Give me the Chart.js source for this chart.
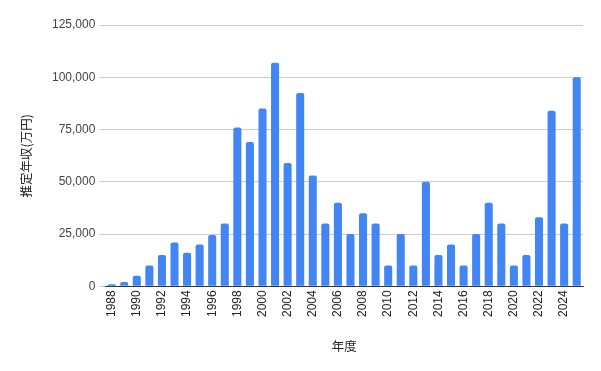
<!DOCTYPE html>
<html>
<head>
<meta charset="utf-8">
<script src="https://cdn.jsdelivr.net/npm/chart.js@4"></script>
<style>
  html, body { margin: 0; padding: 0; background: #fff; }
  #wrap { width: 601px; height: 371px; }
</style>
</head>
<body>
<div id="wrap"><canvas id="incomeChart" width="601" height="371"></canvas></div>
<script>
// 年度
const years = [];
for (let y = 1988; y <= 2025; y++) years.push(String(y));

// 推定年収(万円)
const income = [
  1000, 2000, 5000, 10000, 15000, 21000, 16000, 20000, 24500, 30000,
  76000, 69000, 85000, 107000, 59000, 92500, 53000, 30000, 40000, 25000,
  35000, 30000, 10000, 25000, 10000, 50000, 15000, 20000, 10000, 25000,
  40000, 30000, 10000, 15000, 33000, 84000, 30000, 100000
];

const yTicks = [0, 25000, 50000, 75000, 100000, 125000];

const tickFont = { family: "'Liberation Sans', Arial, sans-serif", size: 12 };
const titleFont = { family: "'Noto Sans CJK JP', sans-serif", size: 12.5 };

const ctx = document.getElementById("incomeChart").getContext("2d");
new Chart(ctx, {
  type: 'bar',
  data: {
    labels: years,
    datasets: [{
      label: "推定年収(万円)",
      data: income,
      backgroundColor: "#4285F4",
      borderRadius: { topLeft: 2, topRight: 2 },
      borderSkipped: 'bottom',
      categoryPercentage: 1.0,
      barPercentage: 0.64
    }]
  },
  options: {
    responsive: false,
    animation: false,
    layout: { padding: { top: 25, right: 18, bottom: 13, left: 15 } },
    plugins: {
      legend: { display: false },
      tooltip: { enabled: false }
    },
    scales: {
      x: {
        grid: { display: false, drawTicks: false },
        border: { display: true, color: "#333", width: 1 },
        ticks: {
          autoSkip: false,
          maxRotation: 90,
          minRotation: 90,
          padding: 4,
          color: "#222",
          font: tickFont,
          callback: function (val, i) { return i % 2 === 0 ? years[i] : ""; }
        },
        title: {
          display: true,
          text: "年度",
          color: "#222",
          font: titleFont,
          padding: { top: 18 }
        }
      },
      y: {
        min: 0,
        max: 125000,
        afterBuildTicks: function (axis) { axis.ticks = yTicks.map(v => ({ value: v })); },
        grid: { color: "#cccccc", tickLength: 6, tickColor: "#cccccc" },
        border: { display: false },
        ticks: {
          color: "#444",
          font: tickFont,
          padding: 4,
          callback: function (v) { return v.toLocaleString("en-US"); }
        },
        title: {
          display: true,
          text: "推定年収(万円)",
          color: "#222",
          font: titleFont,
          padding: { bottom: 14 }
        }
      }
    }
  }
});
</script>
</body>
</html>
